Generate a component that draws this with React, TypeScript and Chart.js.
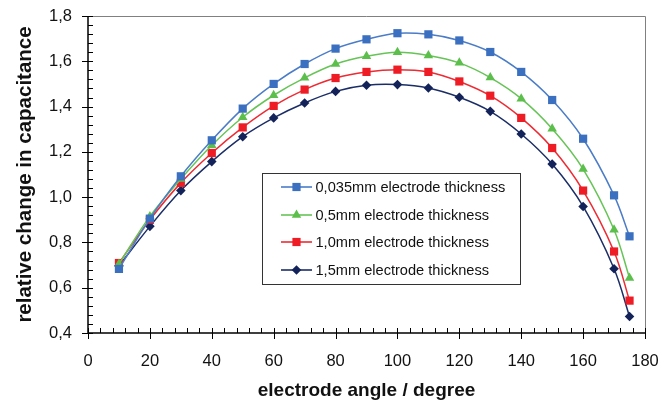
import React, { useEffect, useRef } from "react";
import { Chart, registerables } from "chart.js";

Chart.register(...registerables);

const angles = [10, 20, 30, 40, 50, 60, 70, 80, 90, 100, 110, 120, 130, 140, 150, 160, 170, 175];
const thick0035 = [0.683, 0.905, 1.092, 1.251, 1.391, 1.5, 1.588, 1.656, 1.697, 1.724, 1.719, 1.692, 1.641, 1.553, 1.429, 1.258, 1.008, 0.827];
const thick05 = [0.705, 0.915, 1.08, 1.229, 1.353, 1.45, 1.527, 1.588, 1.622, 1.64, 1.626, 1.593, 1.528, 1.435, 1.302, 1.124, 0.856, 0.643];
const thick10 = [0.709, 0.9, 1.063, 1.195, 1.308, 1.403, 1.475, 1.526, 1.553, 1.563, 1.553, 1.511, 1.448, 1.35, 1.217, 1.029, 0.76, 0.543];
const thick15 = [0.697, 0.871, 1.029, 1.157, 1.267, 1.35, 1.416, 1.467, 1.494, 1.497, 1.482, 1.441, 1.379, 1.279, 1.146, 0.959, 0.684, 0.473];
const seriesLabels = [
  "0,035mm electrode thickness",
  "0,5mm electrode thickness",
  "1,0mm electrode thickness",
  "1,5mm electrode thickness",
];
const xTitle = "electrode angle / degree";
const yTitle = "relative change in capacitance";

const FONT = "'Liberation Sans', Arial, sans-serif";

const styles = [
  { line: "#4a7cc8", point: "#3b6fc0", shape: "rect", r: 5.8 },
  { line: "#66c456", point: "#5cbf4c", shape: "triangle", r: 5.5 },
  { line: "#ee2a32", point: "#ee1c25", shape: "rect", r: 5.8 },
  { line: "#1a2d66", point: "#13235a", shape: "rectRot", r: 4.8 },
];

const fmt = (v: number) => v.toFixed(1).replace(".", ",");

function drawMarker(ctx: CanvasRenderingContext2D, shape: string, r: number, x: number, y: number) {
  ctx.beginPath();
  if (shape === "rect") {
    const s = r * Math.SQRT1_2;
    ctx.rect(x - s, y - s, 2 * s, 2 * s);
  } else if (shape === "triangle") {
    ctx.moveTo(x, y - r);
    ctx.lineTo(x + r * 0.866, y + r * 0.5);
    ctx.lineTo(x - r * 0.866, y + r * 0.5);
    ctx.closePath();
  } else {
    ctx.moveTo(x, y - r);
    ctx.lineTo(x + r, y);
    ctx.lineTo(x, y + r);
    ctx.lineTo(x - r, y);
    ctx.closePath();
  }
  ctx.fill();
}

const axisPlugin = {
  id: "axisTicks",
  afterDraw(chart: any) {
    const ctx = chart.ctx;
    const xs = chart.scales.x;
    const ys = chart.scales.y;
    const { left, right, top, bottom } = chart.chartArea;
    ctx.save();
    ctx.strokeStyle = "#808080";
    ctx.lineWidth = 1;
    ctx.beginPath();
    ctx.moveTo(left, top + 0.5);
    ctx.lineTo(right + 0.5, top + 0.5);
    ctx.lineTo(right + 0.5, bottom);
    ctx.stroke();
    ctx.strokeStyle = "#000";
    ctx.lineWidth = 1.5;
    ctx.beginPath();
    ctx.moveTo(left, top);
    ctx.lineTo(left, bottom);
    ctx.lineTo(right, bottom);
    ctx.stroke();
    ctx.lineWidth = 1;
    ctx.beginPath();
    for (let i = 0; i <= 35; i++) {
      const v = 0.4 + i * 0.04;
      const y = Math.round(ys.getPixelForValue(v)) + 0.5;
      const major = i % 5 === 0;
      ctx.moveTo(major ? left - 6 : left, y);
      ctx.lineTo(left + 5, y);
    }
    for (let i = 0; i <= 45; i++) {
      const v = i * 4;
      const x = Math.round(xs.getPixelForValue(v)) + 0.5;
      const major = i % 5 === 0;
      ctx.moveTo(x, bottom - 5);
      ctx.lineTo(x, major ? bottom + 6 : bottom);
    }
    ctx.stroke();

    const bx = 262.5, by = 173.5, bw = 258, bh = 111;
    ctx.fillStyle = "#fff";
    ctx.fillRect(bx, by, bw, bh);
    ctx.strokeStyle = "#333";
    ctx.lineWidth = 1;
    ctx.strokeRect(bx, by, bw, bh);
    const rows = [187, 215, 242, 270];
    ctx.font = "14.6px " + FONT;
    ctx.textBaseline = "middle";
    ctx.textAlign = "left";
    rows.forEach((ry, i) => {
      const s = styles[i];
      ctx.strokeStyle = s.line;
      ctx.lineWidth = 1.6;
      ctx.beginPath();
      ctx.moveTo(281, ry);
      ctx.lineTo(312, ry);
      ctx.stroke();
      ctx.fillStyle = s.point;
      drawMarker(ctx, s.shape, s.r, 296.5, ry);
      ctx.fillStyle = "#111";
      ctx.fillText(seriesLabels[i], 315.5, ry + 0.5);
    });
    ctx.restore();
  },
};

export default function App() {
  const ref = useRef<HTMLCanvasElement | null>(null);
  useEffect(() => {
    if (!ref.current) return;
    const all = [thick0035, thick05, thick10, thick15];
    const chart = new Chart(ref.current, {
      type: "line",
      data: {
        datasets: all.map((vals, i) => ({
          label: seriesLabels[i],
          data: angles.map((a, j) => ({ x: a, y: vals[j] })),
          borderColor: styles[i].line,
          backgroundColor: styles[i].point,
          pointBackgroundColor: styles[i].point,
          pointBorderColor: styles[i].point,
          pointBorderWidth: 0,
          pointStyle: styles[i].shape as any,
          pointRadius: styles[i].r,
          borderWidth: 1.5,
          tension: 0.35,
          fill: false,
        })),
      },
      options: {
        animation: false,
        responsive: false,
        maintainAspectRatio: false,
        layout: { padding: { top: 16, right: 17, left: 0, bottom: 0 } },
        plugins: { legend: { display: false }, tooltip: { enabled: false } },
        scales: {
          x: {
            type: "linear",
            min: 0,
            max: 180,
            grid: { display: false, drawTicks: false },
            border: { display: false },
            ticks: {
              stepSize: 20,
              padding: 19,
              color: "#111",
              font: { family: FONT, size: 16.5 },
              maxRotation: 0,
            },
            title: {
              display: true,
              text: xTitle,
              color: "#111",
              font: { family: FONT, size: 19, weight: "bold", lineHeight: 1.0 },
              padding: { top: 0, bottom: 0 },
            },
            afterFit: (s: any) => {
              s.height = 67;
              s.paddingLeft = 0;
              s.paddingRight = 0;
            },
          },
          y: {
            min: 0.4,
            max: 1.8,
            grid: { display: false, drawTicks: false },
            border: { display: false },
            ticks: {
              stepSize: 0.2,
              padding: 16,
              color: "#111",
              font: { family: FONT, size: 16.5 },
              callback: (v: any) => fmt(Number(v)),
            },
            title: {
              display: true,
              text: yTitle,
              color: "#111",
              font: { family: FONT, size: 20.5, weight: "bold" },
              padding: { top: 13, bottom: 0 },
            },
            afterFit: (s: any) => {
              s.width = 88;
              s.paddingTop = 0;
              s.paddingBottom = 0;
            },
          },
        },
      },
      plugins: [axisPlugin],
    });
    return () => chart.destroy();
  }, []);
  return (
    <div style={{ position: "fixed", left: 0, top: 0, width: 662, height: 400, background: "#fff" }}>
      <canvas ref={ref} width={662} height={400} style={{ width: 662, height: 400, display: "block" }} />
    </div>
  );
}
